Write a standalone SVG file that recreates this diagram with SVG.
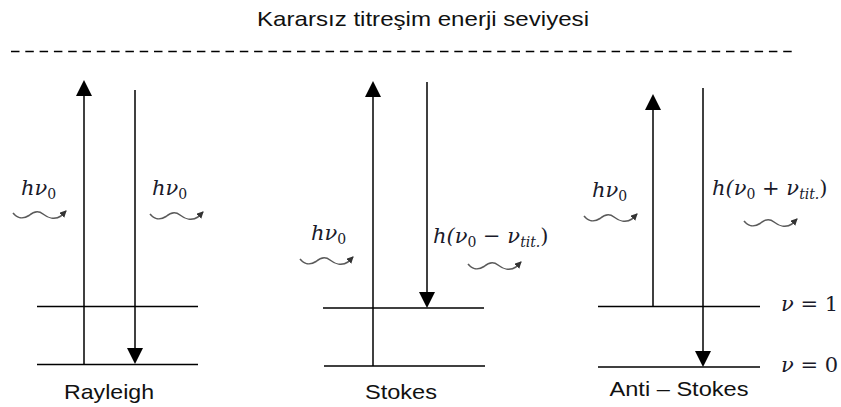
<svg xmlns="http://www.w3.org/2000/svg" width="841" height="407" viewBox="0 0 841 407">
<style>
.lvl{stroke:#000;stroke-width:1.5;fill:none}
.arr{stroke:#000;stroke-width:1.5;fill:none}
.head{fill:#000}
.wv{stroke:#5a5a5a;stroke-width:1.6;fill:none}
.lab{font-family:"Liberation Sans",Arial,sans-serif;font-size:21px;fill:#111}
.m{font-family:"DejaVu Serif",serif;font-style:italic;font-size:21px;fill:#1a1a2a}
.sub{font-size:14px;font-style:normal}
.subi{font-size:14px}
.up{font-style:normal}
</style>
<defs>
<marker id="wh" markerUnits="userSpaceOnUse" markerWidth="8" markerHeight="8" refX="6" refY="3.5" orient="auto">
<path d="M0,0 L7,3.5 L0,7 z" fill="#333"/>
</marker>
<path id="wave" class="wv" d="M0,0 C4,5 10,6.5 16,2.5 C20,-1 25,-3 30,1 C35,5 42,7 48,3 L53,-2" marker-end="url(#wh)"/>
</defs>
<text class="lab" x="423" y="26" text-anchor="middle" font-size="19" textLength="332" lengthAdjust="spacingAndGlyphs">Kararsız titreşim enerji seviyesi</text>
<line x1="11" y1="51.5" x2="792" y2="51.5" stroke="#000" stroke-width="1.6" stroke-dasharray="8.5,5.8"/>
<g id="rayleigh">
<line class="lvl" x1="37" y1="306.5" x2="198" y2="306.5"/>
<line class="lvl" x1="37" y1="364.5" x2="198" y2="364.5"/>
<text class="lab" x="109" y="399" text-anchor="middle" textLength="90" lengthAdjust="spacingAndGlyphs">Rayleigh</text>
</g>
<g id="stokes">
<line class="lvl" x1="323" y1="308" x2="484" y2="308"/>
<line class="lvl" x1="324" y1="366" x2="485" y2="366"/>
<text class="lab" x="401" y="399" text-anchor="middle" textLength="72" lengthAdjust="spacingAndGlyphs">Stokes</text>
</g>
<g id="antistokes">
<line class="lvl" x1="598" y1="306.5" x2="760" y2="306.5"/>
<line class="lvl" x1="598" y1="367" x2="760" y2="367"/>
<text class="lab" x="679" y="396" text-anchor="middle" textLength="139" lengthAdjust="spacingAndGlyphs">Anti – Stokes</text>
</g>
<g id="levels">
<text class="m" x="781" y="311"><tspan>ν</tspan><tspan class="up"> = 1</tspan></text>
<text class="m" x="781" y="372"><tspan>ν</tspan><tspan class="up"> = 0</tspan></text>
</g>
<g id="connectors">
<line class="arr" x1="84" y1="364" x2="84" y2="94"/>
<path class="head" d="M84,80 L76,96 L92,96 z"/>
<line class="arr" x1="135" y1="90" x2="135" y2="350"/>
<path class="head" d="M135,364 L127,348 L143,348 z"/>
<line class="arr" x1="373" y1="366" x2="373" y2="95"/>
<path class="head" d="M373,81 L365,97 L381,97 z"/>
<line class="arr" x1="427" y1="82" x2="427" y2="294"/>
<path class="head" d="M427,308 L419,292 L435,292 z"/>
<line class="arr" x1="653" y1="306" x2="653" y2="108"/>
<path class="head" d="M653,94 L645,110 L661,110 z"/>
<line class="arr" x1="703" y1="88" x2="703" y2="353"/>
<path class="head" d="M703,367 L695,351 L711,351 z"/>
</g>
<g id="photons">
<text class="m" x="21" y="195">hν<tspan class="sub" dy="4">0</tspan></text>
<use href="#wave" x="13" y="213"/>
<text class="m" x="152" y="195">hν<tspan class="sub" dy="4">0</tspan></text>
<use href="#wave" x="150" y="214"/>
<text class="m" x="311" y="240">hν<tspan class="sub" dy="4">0</tspan></text>
<use href="#wave" x="300" y="259"/>
<text class="m" x="433" y="243">h(ν<tspan class="sub" dy="4">0</tspan><tspan class="up" dy="-4"> − </tspan>ν<tspan class="subi" dy="4">tit.</tspan><tspan class="up" dy="-4">)</tspan></text>
<use href="#wave" x="468" y="264"/>
<text class="m" x="592" y="197">hν<tspan class="sub" dy="4">0</tspan></text>
<use href="#wave" x="584" y="216"/>
<text class="m" x="712" y="195">h(ν<tspan class="sub" dy="4">0</tspan><tspan class="up" dy="-4"> + </tspan>ν<tspan class="subi" dy="4">tit.</tspan><tspan class="up" dy="-4">)</tspan></text>
<use href="#wave" x="744" y="221"/>
</g>
</svg>
